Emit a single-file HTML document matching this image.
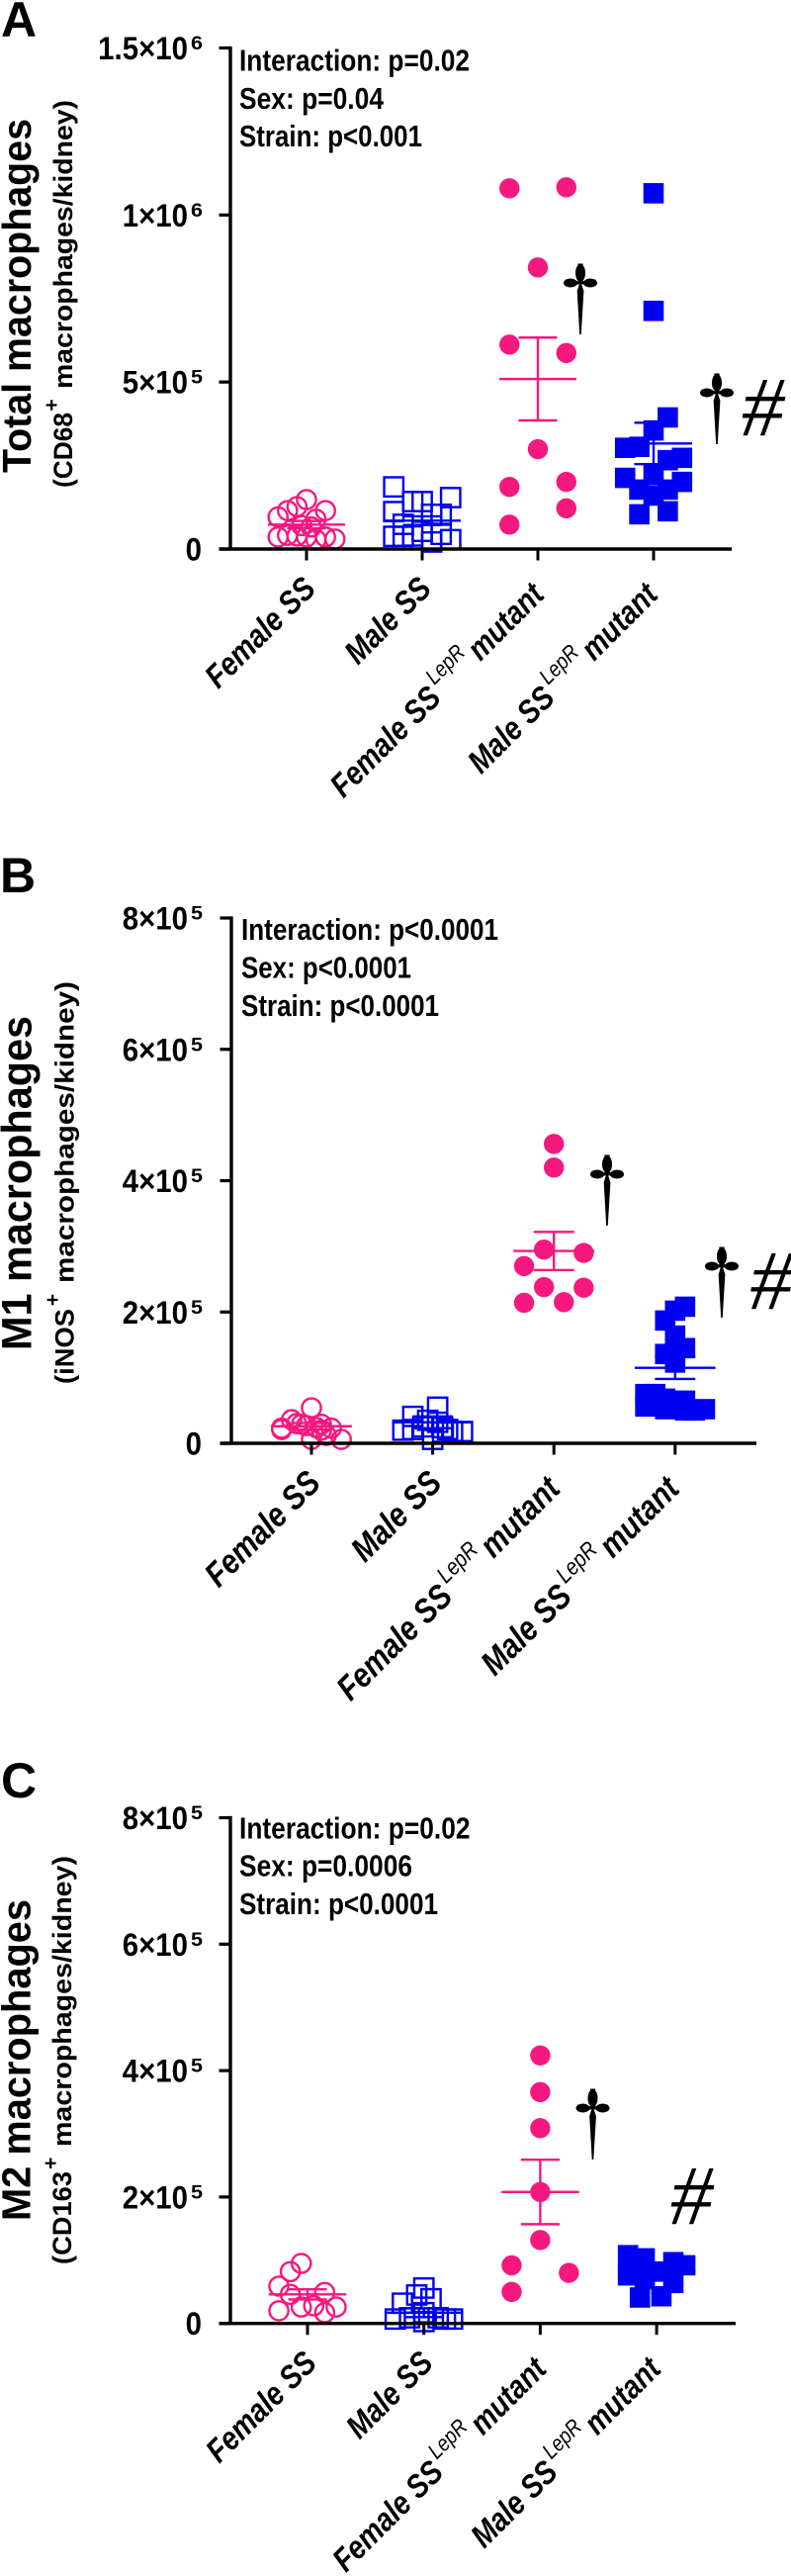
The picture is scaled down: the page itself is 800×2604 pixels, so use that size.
<!DOCTYPE html>
<html lang="en">
<head>
<meta charset="utf-8">
<title>Macrophage counts by sex and strain</title>
<style>
html,body{margin:0;padding:0;background:#fff;}
svg{display:block;}
text{font-family:"Liberation Sans",sans-serif;fill:#000;}
.letter{font-weight:700;font-size:50px;}
.stat{font-weight:700;font-size:31px;}
.ttl{font-weight:700;}
.sub{font-weight:700;font-size:27px;}
.plus{font-weight:700;font-size:21px;text-anchor:middle;}
.sym{font-family:"Liberation Serif",serif;text-anchor:middle;}
</style>
</head>
<body>
<svg id="figure" xmlns="http://www.w3.org/2000/svg" width="800" height="2604" viewBox="0 0 800 2604">
<rect width="800" height="2604" fill="#fff"/>

<text class="letter" x="1" y="37">A</text>
<text class="letter" x="0" y="902">B</text>
<text class="letter" x="1" y="1817">C</text>

<text class="ttl" font-size="41" transform="translate(31,478) rotate(-90)" textLength="358" lengthAdjust="spacingAndGlyphs">Total macrophages</text>
<text class="sub" transform="translate(73,493) rotate(-90)" textLength="76" lengthAdjust="spacingAndGlyphs">(CD68</text>
<text class="plus" transform="translate(59,409.5) rotate(-90)">+</text>
<text class="sub" transform="translate(73,393) rotate(-90)" textLength="292" lengthAdjust="spacingAndGlyphs">macrophages/kidney)</text>

<text class="ttl" font-size="43" transform="translate(31.5,1365) rotate(-90)" textLength="338" lengthAdjust="spacingAndGlyphs">M1 macrophages</text>
<text class="sub" transform="translate(74.5,1399) rotate(-90)" textLength="76" lengthAdjust="spacingAndGlyphs">(iNOS</text>
<text class="plus" transform="translate(60,1314) rotate(-90)">+</text>
<text class="sub" transform="translate(74.5,1297) rotate(-90)" textLength="305" lengthAdjust="spacingAndGlyphs">macrophages/kidney)</text>

<text class="ttl" font-size="41" transform="translate(30.5,2245) rotate(-90)" textLength="325" lengthAdjust="spacingAndGlyphs">M2 macrophages</text>
<text class="sub" transform="translate(72,2289) rotate(-90)" textLength="94" lengthAdjust="spacingAndGlyphs">(CD163</text>
<text class="plus" transform="translate(58,2186.7) rotate(-90)">+</text>
<text class="sub" transform="translate(72,2170) rotate(-90)" textLength="294" lengthAdjust="spacingAndGlyphs">macrophages/kidney)</text>

<text class="stat" x="242" y="71.5" textLength="233" lengthAdjust="spacingAndGlyphs">Interaction: p=0.02</text>
<text class="stat" x="242" y="110" textLength="146" lengthAdjust="spacingAndGlyphs">Sex: p=0.04</text>
<text class="stat" x="242" y="148" textLength="185" lengthAdjust="spacingAndGlyphs">Strain: p&lt;0.001</text>

<text class="stat" x="244" y="950" textLength="260" lengthAdjust="spacingAndGlyphs">Interaction: p&lt;0.0001</text>
<text class="stat" x="244" y="988.5" textLength="172" lengthAdjust="spacingAndGlyphs">Sex: p&lt;0.0001</text>
<text class="stat" x="244" y="1027" textLength="200" lengthAdjust="spacingAndGlyphs">Strain: p&lt;0.0001</text>

<text class="stat" x="242" y="1858.5" textLength="233.5" lengthAdjust="spacingAndGlyphs">Interaction: p=0.02</text>
<text class="stat" x="242" y="1896.5" textLength="175" lengthAdjust="spacingAndGlyphs">Sex: p=0.0006</text>
<text class="stat" x="242" y="1935" textLength="201" lengthAdjust="spacingAndGlyphs">Strain: p&lt;0.0001</text>

<g id="marks"></g>

<g>
  <text class="sym" font-size="88" transform="translate(587,327.5) scale(.8,1)">†</text>
  <ellipse cx="587" cy="276" rx="5" ry="9"/><ellipse cx="577" cy="286" rx="7" ry="4.5"/><ellipse cx="597" cy="286" rx="7" ry="4.5"/>
</g>
<g>
  <text class="sym" font-size="88" transform="translate(725,438.5) scale(.8,1)">†</text>
  <ellipse cx="725" cy="387" rx="5" ry="9"/><ellipse cx="715" cy="397" rx="7" ry="4.5"/><ellipse cx="735" cy="397" rx="7" ry="4.5"/>
</g>
<text class="sym" font-size="86" font-style="italic" x="771.5" y="440">#</text>

<g>
  <text class="sym" font-size="88" transform="translate(614,1228.5) scale(.8,1)">†</text>
  <ellipse cx="614" cy="1177" rx="5" ry="9"/><ellipse cx="604" cy="1187" rx="7" ry="4.5"/><ellipse cx="624" cy="1187" rx="7" ry="4.5"/>
</g>
<g>
  <text class="sym" font-size="88" transform="translate(730,1321.5) scale(.8,1)">†</text>
  <ellipse cx="730" cy="1270" rx="5" ry="9"/><ellipse cx="720" cy="1280" rx="7" ry="4.5"/><ellipse cx="740" cy="1280" rx="7" ry="4.5"/>
</g>
<text class="sym" font-size="86" font-style="italic" x="780" y="1323">#</text>

<g>
  <text class="sym" font-size="88" transform="translate(599.5,2172.5) scale(.8,1)">†</text>
  <ellipse cx="599.5" cy="2121" rx="5" ry="9"/><ellipse cx="589.5" cy="2131" rx="7" ry="4.5"/><ellipse cx="609.5" cy="2131" rx="7" ry="4.5"/>
</g>
<text class="sym" font-size="86" font-style="italic" x="699.5" y="2248">#</text>
</svg>

<script>
// Shared categories
const categoryNames = ['Female SS', 'Male SS', 'Female SS', 'Male SS'];
const categorySuperscripts = ['', '', 'LepR', 'LepR'];
const categoryTails = ['', '', 'mutant', 'mutant'];
const groupSlugs = ['female-ss', 'male-ss', 'female-mutant', 'male-mutant'];

// Panel A: total macrophages (values in thousands per kidney)
const panelATicks = [0, 500, 1000, 1500];
const panelATickLabels = ['0', '5×10', '1×10', '1.5×10'];
const panelATickExponents = ['', '5', '6', '6'];
const panelAFemaleSS = [148, 115, 127, 115, 96, 89, 36, 41, 39, 36, 28, 30, 36, 70, 66];
const panelAFemaleSSJitter = [0, -4, -2, 4, -6, 2, -6, -4, -2, 0, 2, 6, 4, -1, 1];
const panelAMaleSS = [186, 112, 38, 142, 142, 154, 104, 104, 39, 38, 21, 28, 44, 53, 74];
const panelAMaleSSJitter = [-6, -6, -6, -2, 0, 6, 4, 2, -2, -4, 2, 6, 4, 0, -4];
const panelAFemaleMutant = [1080, 1083, 843, 612, 587, 299, 186, 201, 122, 73];
const panelAFemaleMutantJitter = [-6, 6, 0, -6, 6, 0, -6, 6, 6, -6];
const panelAMaleMutant = [1065, 713, 394, 355, 306, 303, 266, 273, 213, 201, 222, 178, 178, 160, 104, 113];
const panelAMaleMutantJitter = [0, 0, 3, 0, -3, -6, 3, 6, -6, 6, 0, -3, 3, 0, -3, 3];
const panelAMeans = [73, 85, 509, 316];
const panelASems = [11, 13, 124, 62];

// Panel B: M1 macrophages
const panelBTicks = [0, 200, 400, 600, 800];
const panelBTickLabels = ['0', '2×10', '4×10', '6×10', '8×10'];
const panelBTickExponents = ['', '5', '5', '5', '5'];
const panelBFemaleSS = [54, 36, 29, 29, 23, 23, 6, 6, 21, 12, 30, 27, 24, 20];
const panelBFemaleSSJitter = [0, -4, -2, 2, -6, 4, 0, 6, -6, 3, -3, -1, 1, 2];
const panelBMaleSS = [41, 55, 35, 32, 20, 21, 21, 18, 18, 6, 17, 25, 24];
const panelBMaleSSJitter = [-4, 1, -1, 1, -6, -4, 3, 6, 4, 0, 2, -2, 2];
const panelBFemaleMutant = [456, 420, 295, 290, 270, 238, 237, 214, 215];
const panelBFemaleMutantJitter = [0, 0, -2, 6, -6, -2, 6, -6, 2];
const panelBMaleMutant = [208, 202, 187, 164, 145, 136, 123, 56, 75, 75, 68, 58, 65, 50, 52, 50, 52];
const panelBMaleMutantJitter = [2, 0, -2, 0, 2, -2, 0, -6, -6, -4, -2, 0, 2, 4, 6, 2, -2];
const panelBMeans = [26, 32, 293, 115];
const panelBSems = [5, 9, 29, 17];

// Panel C: M2 macrophages
const panelCTicks = [0, 200, 400, 600, 800];
const panelCTickLabels = ['0', '2×10', '4×10', '6×10', '8×10'];
const panelCTickExponents = ['', '5', '5', '5', '5'];
const panelCFemaleSS = [95, 82, 59, 46, 49, 20, 26, 28, 17, 26];
const panelCFemaleSSJitter = [-1.3, -3.6, -6, -3.6, 3.6, -6, -1.3, 1.3, 3.6, 6];
const panelCMaleSS = [56, 45, 39, 32, 7, 9, 3, 9, 7, 7, 17];
const panelCMaleSSJitter = [0, -1.5, 1.5, -4.5, -6, -3, 0, 3, 4.5, 6, 0];
const panelCFemaleMutant = [424, 366, 309, 208, 132, 92, 80, 50];
const panelCFemaleMutantJitter = [0, 0, 0, 0, 0, -6, 6, -6];
const panelCMaleMutant = [108, 76, 103, 97, 92, 41, 43, 64, 70, 82, 84];
const panelCMaleMutantJitter = [-6, -6, -2.5, 3.5, 6, -3.5, 1, 3.5, -2.5, 1, -3.5];
const panelCMeans = [46, 17, 208, 82];
const panelCSems = [8, 7, 51, 4];

const PINK = '#f5187f';
const BLUE = '#0000f2';
const NS = 'http://www.w3.org/2000/svg';
const root = document.getElementById('marks');

function make(parent, tag, attrs) {
  const el = document.createElementNS(NS, tag);
  for (const key in attrs) el.setAttribute(key, attrs[key]);
  parent.appendChild(el);
  return el;
}

function drawPanel(p) {
  const panel = make(root, 'g', {});
  
  

  const yScale = v => p.y0 - (v / p.ticks[p.ticks.length - 1]) * (p.y0 - p.yTop);
  const xScale = i => p.xFirst + i * p.xPitch;
  const jitterUnit = p.xPitch / 24.4;

  // Points
  p.groups.forEach((g, i) => {
    const isCircle = i === 0 || i === 2;
    const isOpen = i < 2;
    const color = isCircle ? PINK : BLUE;
    g.values.forEach((v, k) => {
      const cx = xScale(i) + g.jitter[k] * jitterUnit;
      const cy = yScale(v);
      let mark;
      if (isCircle) {
        mark = make(panel, 'circle', {cx: cx, cy: cy, r: isOpen ? 9.6 : 10.2,
          fill: isOpen ? 'none' : color, stroke: isOpen ? color : 'none', 'stroke-width': 2.4});
      } else {
        const s = isOpen ? 19.4 : 20.6;
        mark = make(panel, 'rect', {x: cx - s / 2, y: cy - s / 2, width: s, height: s,
          fill: isOpen ? 'none' : color, stroke: isOpen ? color : 'none', 'stroke-width': 2.4});
      }
      
      
    });
  });

  // Mean and SEM bars
  p.means.forEach((m, i) => {
    const cx = xScale(i);
    const color = (i === 0 || i === 2) ? PINK : BLUE;
    const hi = yScale(m + p.sems[i]);
    const lo = yScale(m - p.sems[i]);
    const my = yScale(m);
    const style = {stroke: color, 'stroke-width': 2.4, fill: 'none'};
    const d = 'M' + (cx - p.xPitch / 3) + ' ' + my + 'H' + (cx + p.xPitch / 3) +
      'M' + (cx - p.xPitch / 6) + ' ' + hi + 'H' + (cx + p.xPitch / 6) +
      'M' + (cx - p.xPitch / 6) + ' ' + lo + 'H' + (cx + p.xPitch / 6) +
      'M' + cx + ' ' + hi + 'V' + lo;
    const bar = make(panel, 'path', Object.assign({d: d}, style));
    
    
  });

  // Y axis
  const yAxis = make(panel, 'line', {x1: p.xAxis, x2: p.xAxis, y1: p.yTop - 1.6, y2: p.y0,
    stroke: '#000', 'stroke-width': 3.4});
  
  

  p.ticks.forEach((t, i) => {
    const y = yScale(t);
    const tick = make(panel, 'line', {x1: p.xAxis - 11.5, x2: p.xAxis, y1: y, y2: y,
      stroke: '#000', 'stroke-width': 3.2});
    
    

    const hasExp = p.tickExponents[i] !== '';
    const label = make(panel, 'text', {transform: 'translate(' + (hasExp ? 190 : 204) + ',' + (y + 11.5) + ') scale(.92,1)',
      'text-anchor': 'end', 'font-size': 32, 'font-weight': 700});
    label.textContent = p.tickLabels[i];
    
    

    if (hasExp) {
      const exp = make(panel, 'text', {x: 193, y: y + 1.5, 'font-size': 19, 'font-weight': 700,
        textLength: 12, lengthAdjust: 'spacingAndGlyphs'});
      exp.textContent = p.tickExponents[i];
      
      
    }
  });

  // X axis
  const xAxis = make(panel, 'line', {x1: p.xAxis - 11.5, x2: p.xEnd, y1: p.y0, y2: p.y0,
    stroke: '#000', 'stroke-width': 3.4});
  
  

  categoryNames.forEach((name, i) => {
    const x = xScale(i);
    const tick = make(panel, 'line', {x1: x, x2: x, y1: p.y0, y2: p.y0 + 11.5,
      stroke: '#000', 'stroke-width': 3});
    
    

    const hasSup = categorySuperscripts[i] !== '';
    const ex = x + (hasSup ? (i === 2 ? 8 : 6) : 11);
    const ey = p.y0 + (hasSup ? 48 : 42);
    const label = make(panel, 'text', {transform: 'translate(' + ex + ',' + ey + ') rotate(-45) scale(.85,1)',
      'text-anchor': 'end', 'font-size': p.labelSize, 'font-weight': 700, 'font-style': 'italic'});
    
    
    label.appendChild(document.createTextNode(name));
    if (hasSup) {
      const sup = make(label, 'tspan', {dx: 5, dy: -16, 'font-size': p.labelSize * 0.68, 'font-weight': 400});
      sup.textContent = categorySuperscripts[i];
      const tail = make(label, 'tspan', {dx: 5, dy: 16});
      tail.textContent = categoryTails[i];
    }
  });
}

drawPanel({
  id: 'a', xAxis: 233, xFirst: 310, xPitch: 117, xEnd: 740, y0: 555, yTop: 48.5, labelSize: 33,
  ticks: panelATicks, tickLabels: panelATickLabels, tickExponents: panelATickExponents,
  means: panelAMeans, sems: panelASems,
  groups: [
    {values: panelAFemaleSS, jitter: panelAFemaleSSJitter},
    {values: panelAMaleSS, jitter: panelAMaleSSJitter},
    {values: panelAFemaleMutant, jitter: panelAFemaleMutantJitter},
    {values: panelAMaleMutant, jitter: panelAMaleMutantJitter}
  ]
});
drawPanel({
  id: 'b', xAxis: 234, xFirst: 315, xPitch: 122.6, xEnd: 765, y0: 1459, yTop: 928, labelSize: 34.5,
  ticks: panelBTicks, tickLabels: panelBTickLabels, tickExponents: panelBTickExponents,
  means: panelBMeans, sems: panelBSems,
  groups: [
    {values: panelBFemaleSS, jitter: panelBFemaleSSJitter},
    {values: panelBMaleSS, jitter: panelBMaleSSJitter},
    {values: panelBFemaleMutant, jitter: panelBFemaleMutantJitter},
    {values: panelBMaleMutant, jitter: panelBMaleMutantJitter}
  ]
});
drawPanel({
  id: 'c', xAxis: 233, xFirst: 311, xPitch: 117.7, xEnd: 744, y0: 2348.7, yTop: 1837.5, labelSize: 33,
  ticks: panelCTicks, tickLabels: panelCTickLabels, tickExponents: panelCTickExponents,
  means: panelCMeans, sems: panelCSems,
  groups: [
    {values: panelCFemaleSS, jitter: panelCFemaleSSJitter},
    {values: panelCMaleSS, jitter: panelCMaleSSJitter},
    {values: panelCFemaleMutant, jitter: panelCFemaleMutantJitter},
    {values: panelCMaleMutant, jitter: panelCMaleMutantJitter}
  ]
});
</script>
</body>
</html>
